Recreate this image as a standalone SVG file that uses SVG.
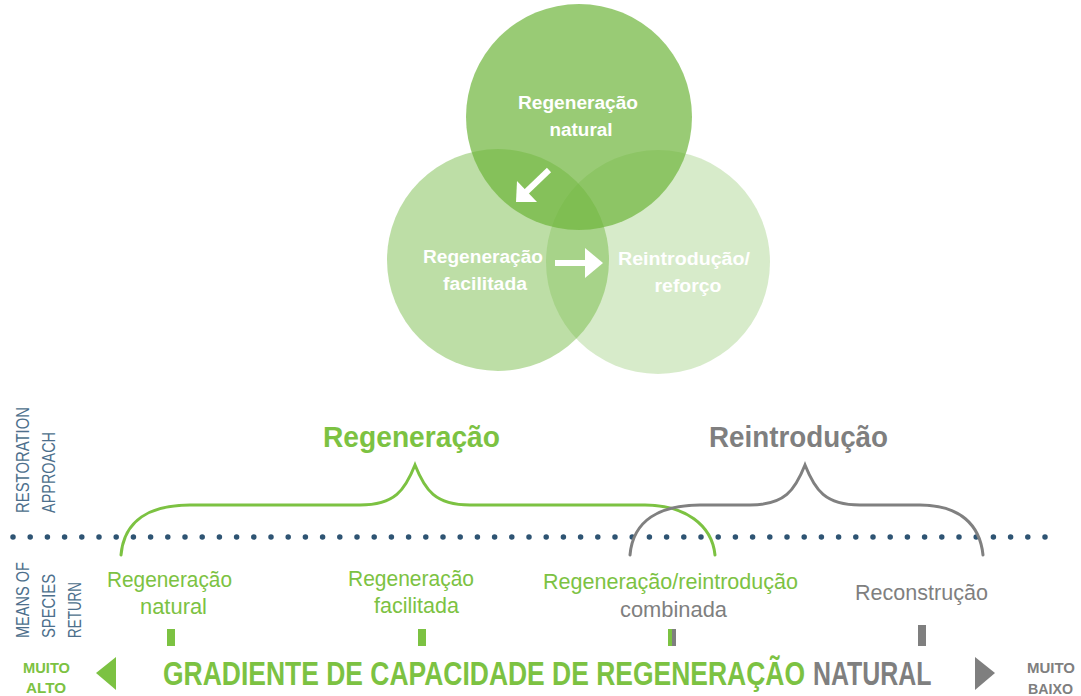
<svg xmlns="http://www.w3.org/2000/svg" width="1081" height="696" viewBox="0 0 1081 696">
<style>
.ct{font-family:"Liberation Sans",Arial,sans-serif;font-weight:bold;font-size:18px;fill:#fff;text-anchor:middle}
.side{font-family:"Liberation Sans",Arial,sans-serif;font-size:19px;fill:#4d6f8c}
.g{fill:#7cc242}
.k{fill:#7f7f7f}
.t{font-family:"Liberation Sans",Arial,sans-serif;font-weight:bold;text-anchor:middle}
.lab{font-family:"Liberation Sans",Arial,sans-serif;font-size:22px;text-anchor:middle}
.grad{font-family:"Liberation Sans",Arial,sans-serif;font-weight:bold;font-size:33px}
.brace{fill:none;stroke-width:3;stroke-linecap:round}
</style>
<rect width="1081" height="696" fill="#fff"/>
<g id="venn">
<g id="circle-reintroducao">
<circle cx="658" cy="262" r="112" fill="#6db53a" fill-opacity="0.27"/>
</g>
<g id="circle-facilitada">
<circle cx="498" cy="260" r="111" fill="#6db53a" fill-opacity="0.45"/>
</g>
<g id="circle-natural">
<circle cx="579" cy="117" r="113" fill="#6db53a" fill-opacity="0.7"/>
</g>
<text class="ct" x="578" y="109" textLength="120" lengthAdjust="spacingAndGlyphs">Regeneração</text>
<text class="ct" x="581" y="136" textLength="63" lengthAdjust="spacingAndGlyphs">natural</text>
<text class="ct" x="483" y="263" textLength="120" lengthAdjust="spacingAndGlyphs">Regeneração</text>
<text class="ct" x="485" y="290" textLength="84" lengthAdjust="spacingAndGlyphs">facilitada</text>
<text class="ct" x="684" y="265" textLength="132" lengthAdjust="spacingAndGlyphs">Reintrodução/</text>
<text class="ct" x="688" y="292" textLength="67" lengthAdjust="spacingAndGlyphs">reforço</text>
</g>
<g id="connectors">
<line x1="549" y1="170" x2="525" y2="193" stroke="#fff" stroke-width="6"/>
<polygon points="516,202 517,181 537,202" fill="#fff"/>
<line x1="555" y1="263" x2="588" y2="263" stroke="#fff" stroke-width="6"/>
<polygon points="585,248 603,263 585,278" fill="#fff"/>
</g>
<g id="side-labels">
<text class="side" transform="translate(29,513) rotate(-90)" textLength="106" lengthAdjust="spacingAndGlyphs">RESTORATION</text>
<text class="side" transform="translate(55,513) rotate(-90)" textLength="81" lengthAdjust="spacingAndGlyphs">APPROACH</text>
<text class="side" transform="translate(29,638) rotate(-90)" textLength="76" lengthAdjust="spacingAndGlyphs">MEANS OF</text>
<text class="side" transform="translate(55,638) rotate(-90)" textLength="64" lengthAdjust="spacingAndGlyphs">SPECIES</text>
<text class="side" transform="translate(81,638) rotate(-90)" textLength="56" lengthAdjust="spacingAndGlyphs">RETURN</text>
</g>
<g id="divider">
<line x1="13" y1="537" x2="1046" y2="537" stroke="#2e5473" stroke-width="5.5" stroke-linecap="round" stroke-dasharray="0 17.2"/>
</g>
<g id="brace-regeneracao">
<path class="brace" stroke="#7cc242" d="M121,555 C124,520 150,505 190,505 L360,505 C395,505 405,490 415,465 C425,490 435,505 470,505 L645,505 C685,505 712,525 715,555"/>
<text class="t g" x="411.5" y="447" font-size="29" textLength="177" lengthAdjust="spacingAndGlyphs">Regeneração</text>
</g>
<g id="brace-reintroducao">
<path class="brace" stroke="#808080" d="M630,555 C633,520 660,505 700,505 L750,505 C785,505 795,490 805,465 C815,490 825,505 860,505 L920,505 C960,505 980,525 983,555"/>
<text class="t k" x="798.5" y="447" font-size="29" textLength="179" lengthAdjust="spacingAndGlyphs">Reintrodução</text>
</g>
<g id="means">
<g id="m-natural">
<text class="lab g" x="169.5" y="587" textLength="125" lengthAdjust="spacingAndGlyphs">Regeneração</text>
<text class="lab g" x="173.5" y="614" textLength="67" lengthAdjust="spacingAndGlyphs">natural</text>
<rect x="167" y="629" width="8" height="17" class="g"/>
</g>
<g id="m-facilitada">
<text class="lab g" x="411" y="586" textLength="126" lengthAdjust="spacingAndGlyphs">Regeneração</text>
<text class="lab g" x="416.5" y="613" textLength="85" lengthAdjust="spacingAndGlyphs">facilitada</text>
<rect x="418" y="629" width="8" height="17" class="g"/>
</g>
<g id="m-combinada">
<text class="lab g" x="670.5" y="589" textLength="255" lengthAdjust="spacingAndGlyphs">Regeneração/reintrodução</text>
<text class="lab k" x="673.5" y="617" textLength="107" lengthAdjust="spacingAndGlyphs">combinada</text>
<rect x="668" y="629" width="4" height="17" class="g"/>
<rect x="672" y="629" width="4" height="17" class="k"/>
</g>
<g id="m-reconstrucao">
<text class="lab k" x="921.5" y="600" textLength="133" lengthAdjust="spacingAndGlyphs">Reconstrução</text>
<rect x="918" y="625" width="8" height="21" class="k"/>
</g>
</g>
<g id="gradient">
<text class="t g" x="46.5" y="673" font-size="15" textLength="47" lengthAdjust="spacingAndGlyphs">MUITO</text>
<text class="t g" x="46" y="693" font-size="15" textLength="40" lengthAdjust="spacingAndGlyphs">ALTO</text>
<polygon points="96,673 116,657 116,690" class="g"/>
<text class="grad g" transform="translate(163,685) scale(0.802,1)">GRADIENTE DE CAPACIDADE DE REGENERAÇÃO</text>
<text class="grad k" transform="translate(813,685) scale(0.755,1)">NATURAL</text>
<polygon points="975,657 995,673 975,690" class="k"/>
<text class="t k" x="1051" y="673" font-size="15" textLength="48" lengthAdjust="spacingAndGlyphs">MUITO</text>
<text class="t k" x="1050.5" y="694" font-size="15" textLength="45" lengthAdjust="spacingAndGlyphs">BAIXO</text>
</g>
</svg>
